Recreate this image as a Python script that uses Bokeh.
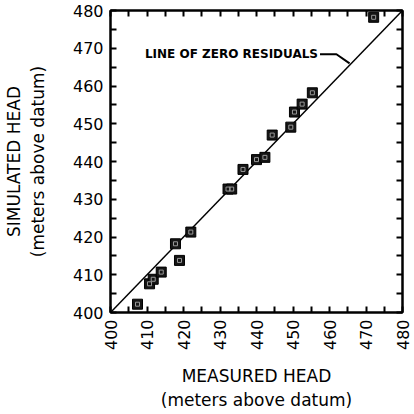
import math
from bokeh.plotting import figure
from bokeh.models import LinearAxis, FixedTicker, Range1d, Label
from bokeh.embed import file_html
from bokeh.resources import INLINE

measured = [407.4, 410.7, 411.7, 413.9, 417.8, 418.9, 422.0, 432.2, 433.2,
            436.3, 440.0, 442.3, 444.3, 449.4, 450.4, 452.5, 455.3, 472.1]
simulated = [402.2, 407.6, 408.8, 410.7, 418.2, 413.8, 421.3, 432.7, 432.7,
             437.9, 440.5, 441.1, 447.0, 449.1, 453.1, 455.2, 458.2, 478.2]
zero_line = [400, 480]
major_ticks = [400, 410, 420, 430, 440, 450, 460, 470, 480]
minor_ticks = [405, 415, 425, 435, 445, 455, 465, 475]
leader_x = [457.4, 461.9, 465.5]
leader_y = [468.4, 468.4, 466.0]
label_text = "LINE OF ZERO RESIDUALS"

FONT = "DejaVu Sans"

p = figure(width=414, height=414, output_backend="svg", toolbar_location=None,
           x_range=Range1d(400, 480), y_range=Range1d(400, 480),
           min_border_left=106, min_border_right=12, min_border_top=10,
           min_border_bottom=102)
p.grid.visible = False
p.outline_line_color = "black"
p.outline_line_width = 2
p.background_fill_color = "white"
p.border_fill_color = "white"

ticker = FixedTicker(ticks=major_ticks, minor_ticks=minor_ticks)

def style_axis(ax, labels=True):
    ax.ticker = ticker
    ax.axis_line_color = "black"
    ax.axis_line_width = 2
    ax.major_tick_in = 6
    ax.major_tick_out = 0
    ax.minor_tick_in = 6
    ax.minor_tick_out = 0
    ax.major_tick_line_width = 2
    ax.minor_tick_line_width = 2
    ax.major_label_text_font = FONT
    ax.major_label_text_font_size = "16px"
    ax.major_label_text_color = "black"
    ax.major_label_standoff = 7
    ax.axis_label_text_font = FONT
    ax.axis_label_text_font_size = "17px"
    ax.axis_label_text_font_style = "normal"
    ax.axis_label_text_color = "black"
    if not labels:
        ax.major_label_overrides = {t: "" for t in major_ticks}
        ax.major_label_standoff = 0

xa = p.xaxis[0]
ya = p.yaxis[0]
style_axis(xa)
style_axis(ya)
xa.major_label_orientation = math.pi / 2
xa.axis_label = "MEASURED HEAD\n(meters above datum)"
xa.axis_label_standoff = 13
ya.axis_label = "SIMULATED HEAD\n(meters above datum)"
ya.axis_label_standoff = 22

top = LinearAxis()
right = LinearAxis()
style_axis(top, labels=False)
style_axis(right, labels=False)
p.add_layout(top, "above")
p.add_layout(right, "right")

p.line(zero_line, zero_line, line_color="black", line_width=1.5)
p.line(leader_x, leader_y, line_color="black", line_width=2)

p.scatter(measured, simulated, marker="square", size=10,
          fill_color="#151515", line_color="black", line_width=1)
p.scatter(measured, simulated, marker="square", size=4,
          fill_color=None, line_color="#9a9a9a", line_width=1)

lab = Label(x=leader_x[0], y=leader_y[0], text=label_text,
            text_font=FONT, text_font_size="12px", text_font_style="bold",
            text_align="right", text_baseline="middle", x_offset=-2,
            text_color="black")
p.add_layout(lab)

open("out.html", "w").write(file_html(p, INLINE))
